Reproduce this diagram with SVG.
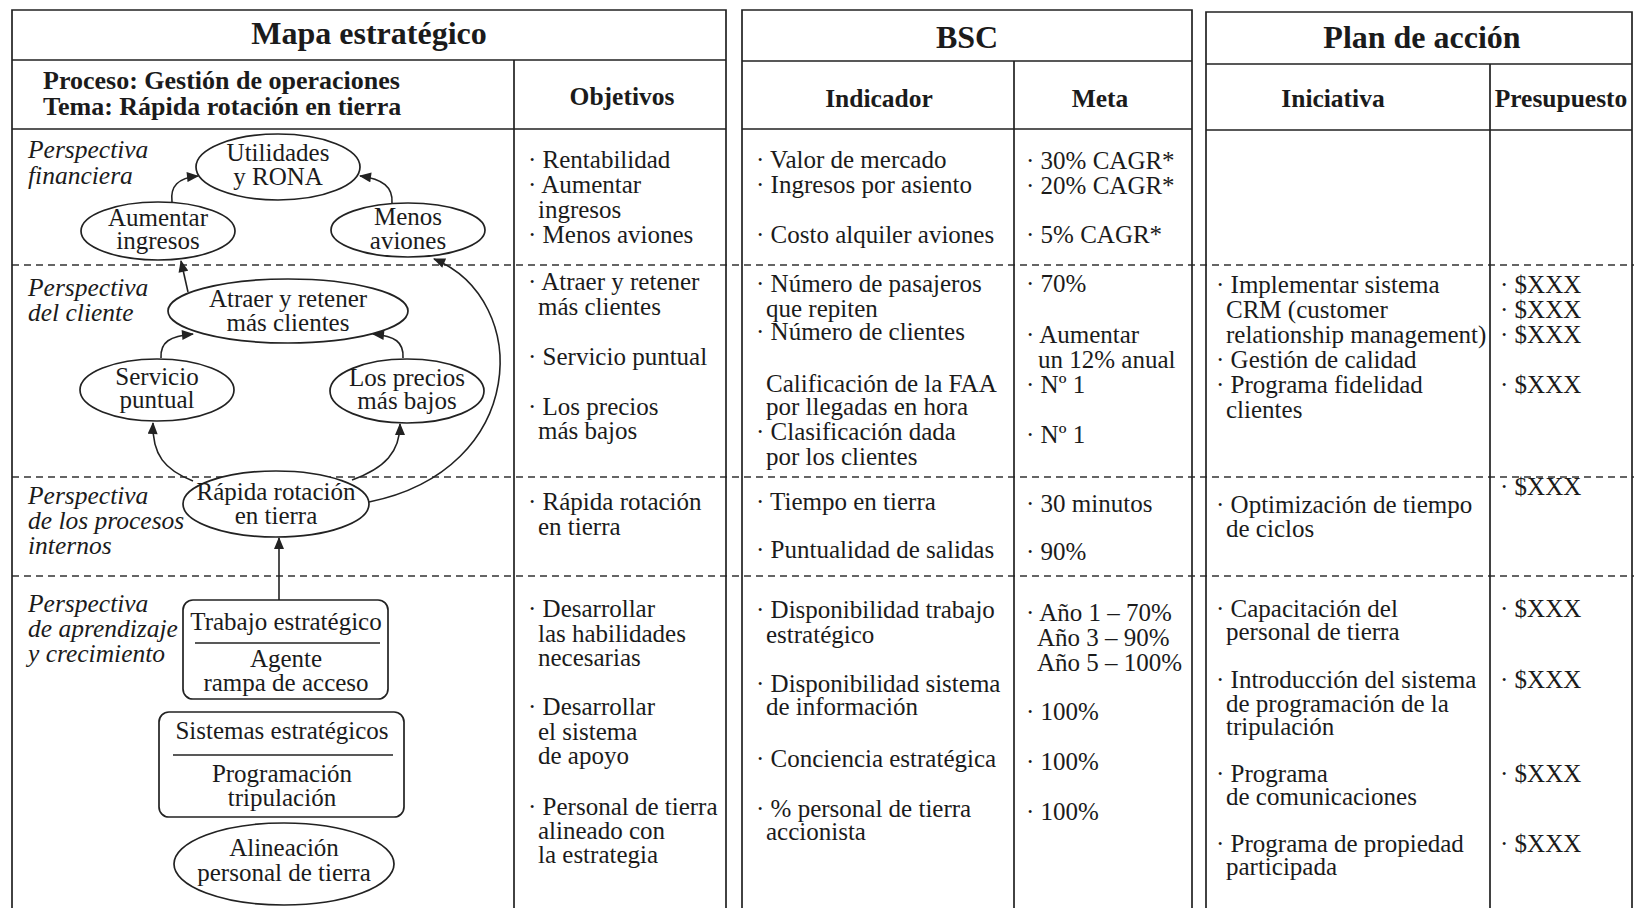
<svg xmlns="http://www.w3.org/2000/svg" width="1634" height="908" viewBox="0 0 1634 908">
<style>
.t{font-family:"Liberation Serif","Times New Roman",serif;font-size:25px;fill:#1b1b1b}
.c{text-anchor:middle}
.b{font-weight:bold;font-size:25.5px}
.hb{font-weight:bold;font-size:26px}
.ti{font-weight:bold;font-size:32px;text-anchor:middle}
.i{font-style:italic;font-size:25.5px}
.ln{stroke:#222;stroke-width:1.7;fill:none}
.dash{stroke:#333;stroke-width:1.4;stroke-dasharray:7 5;fill:none}
.node{fill:#fff;stroke:#222;stroke-width:1.7}
.sep{stroke:#222;stroke-width:1.5}
.conn{fill:none;stroke:#222;stroke-width:1.6;marker-end:url(#ah)}
</style>
<defs>
<marker id="ah" viewBox="0 0 12 10" refX="11" refY="5" markerWidth="13" markerHeight="10" markerUnits="userSpaceOnUse" orient="auto">
<path d="M0,0 L12,5 L0,10 Z" fill="#222"/>
</marker>
</defs>
<rect width="1634" height="908" fill="#fff"/>

<g id="grid">
<path class="dash" d="M12,265 H1634 M12,477 H1634 M12,576 H1634"/>
<path class="ln" d="M12,908 V10 H726 V908 M12,60 H726 M12,129 H726 M514,60 V908"/>
<path class="ln" d="M742,908 V10 H1192 V908 M742,61 H1192 M742,129 H1192 M1014,61 V908"/>
<path class="ln" d="M1206,908 V12 H1632 V908 M1206,64 H1632 M1206,130 H1632 M1490,64 V908"/>
</g>

<g id="headers">
<text class="t ti" x="369" y="44">Mapa estratégico</text>
<text class="t ti" x="967" y="48">BSC</text>
<text class="t ti" x="1422" y="48">Plan de acción</text>
<text class="t hb" x="43" y="89">Proceso: Gestión de operaciones</text>
<text class="t hb" x="43" y="115">Tema: Rápida rotación en tierra</text>
<text class="t b c" x="622" y="105">Objetivos</text>
<text class="t b c" x="879" y="107">Indicador</text>
<text class="t b c" x="1100" y="107">Meta</text>
<text class="t b c" x="1333" y="107">Iniciativa</text>
<text class="t b c" x="1561" y="107">Presupuesto</text>
</g>

<g id="perspectives">
<text class="t i" x="28" y="158">Perspectiva</text>
<text class="t i" x="28" y="184">financiera</text>
<text class="t i" x="28" y="296">Perspectiva</text>
<text class="t i" x="28" y="321">del cliente</text>
<text class="t i" x="28" y="504">Perspectiva</text>
<text class="t i" x="28" y="529">de los procesos</text>
<text class="t i" x="28" y="554">internos</text>
<text class="t i" x="28" y="612">Perspectiva</text>
<text class="t i" x="28" y="637">de aprendizaje</text>
<text class="t i" x="28" y="662">y crecimiento</text>
</g>

<g id="connectors">
<path class="conn" d="M172,202 C170,186 178,178 198,176"/>
<path class="conn" d="M392,203 C393,187 383,179 360,176"/>
<path class="conn" d="M188,292 L181,261"/>
<path class="conn" d="M161,358 C160,342 170,336 193,334"/>
<path class="conn" d="M403,358 C404,342 395,336 373,334"/>
<path class="conn" d="M193,481 C165,470 152,455 153,423"/>
<path class="conn" d="M352,480 C385,468 400,452 400,424"/>
<path class="conn" d="M369,502 C528,470 533,300 434,259"/>
<path class="conn" d="M279,600 L279,538"/>
</g>

<g id="n-utilidades">
<ellipse class="node" cx="278" cy="167" rx="82" ry="33"/>
<text class="t c" x="278" y="161">Utilidades</text>
<text class="t c" x="278" y="185">y RONA</text>
</g>
<g id="n-aumentar">
<ellipse class="node" cx="158" cy="231" rx="77" ry="29"/>
<text class="t c" x="158" y="226">Aumentar</text>
<text class="t c" x="158" y="249">ingresos</text>
</g>
<g id="n-menos">
<ellipse class="node" cx="408" cy="230" rx="77" ry="27"/>
<text class="t c" x="408" y="225">Menos</text>
<text class="t c" x="408" y="249">aviones</text>
</g>
<g id="n-atraer">
<ellipse class="node" cx="288" cy="311" rx="120" ry="32"/>
<text class="t c" x="288" y="307">Atraer y retener</text>
<text class="t c" x="288" y="331">más clientes</text>
</g>
<g id="n-servicio">
<ellipse class="node" cx="157" cy="390" rx="77" ry="31"/>
<text class="t c" x="157" y="385">Servicio</text>
<text class="t c" x="157" y="408">puntual</text>
</g>
<g id="n-precios">
<ellipse class="node" cx="407" cy="391" rx="77" ry="32"/>
<text class="t c" x="407" y="386">Los precios</text>
<text class="t c" x="407" y="409">más bajos</text>
</g>
<g id="n-rapida">
<ellipse class="node" cx="276" cy="504" rx="93" ry="33"/>
<text class="t c" x="276" y="500">Rápida rotación</text>
<text class="t c" x="276" y="524">en tierra</text>
</g>
<g id="n-trabajo">
<rect class="node" x="183" y="600" width="205" height="99" rx="10"/>
<text class="t c" x="286" y="630">Trabajo estratégico</text>
<line class="sep" x1="195" y1="643" x2="380" y2="643"/>
<text class="t c" x="286" y="667">Agente</text>
<text class="t c" x="286" y="691">rampa de acceso</text>
</g>
<g id="n-sistemas">
<rect class="node" x="159" y="712" width="245" height="105" rx="10"/>
<text class="t c" x="282" y="739">Sistemas estratégicos</text>
<line class="sep" x1="173" y1="755" x2="393" y2="755"/>
<text class="t c" x="282" y="782">Programación</text>
<text class="t c" x="282" y="806">tripulación</text>
</g>
<g id="n-alineacion">
<ellipse class="node" cx="284" cy="864" rx="110" ry="41"/>
<text class="t c" x="284" y="856">Alineación</text>
<text class="t c" x="284" y="881">personal de tierra</text>
</g>

<g id="col-objetivos">
<text class="t" x="528" y="168">· Rentabilidad</text>
<text class="t" x="528" y="193">· Aumentar</text>
<text class="t" x="538" y="218">ingresos</text>
<text class="t" x="528" y="243">· Menos aviones</text>
<text class="t" x="528" y="290">· Atraer y retener</text>
<text class="t" x="538" y="315">más clientes</text>
<text class="t" x="528" y="365">· Servicio puntual</text>
<text class="t" x="528" y="415">· Los precios</text>
<text class="t" x="538" y="439">más bajos</text>
<text class="t" x="528" y="510">· Rápida rotación</text>
<text class="t" x="538" y="535">en tierra</text>
<text class="t" x="528" y="617">· Desarrollar</text>
<text class="t" x="538" y="642">las habilidades</text>
<text class="t" x="538" y="666">necesarias</text>
<text class="t" x="528" y="715">· Desarrollar</text>
<text class="t" x="538" y="740">el sistema</text>
<text class="t" x="538" y="764">de apoyo</text>
<text class="t" x="528" y="815">· Personal de tierra</text>
<text class="t" x="538" y="839">alineado con</text>
<text class="t" x="538" y="863">la estrategia</text>
</g>

<g id="col-indicador">
<text class="t" x="756" y="168">· Valor de mercado</text>
<text class="t" x="756" y="193">· Ingresos por asiento</text>
<text class="t" x="756" y="243">· Costo alquiler aviones</text>
<text class="t" x="756" y="292">· Número de pasajeros</text>
<text class="t" x="766" y="317">que repiten</text>
<text class="t" x="756" y="340">· Número de clientes</text>
<text class="t" x="766" y="392">Calificación de la FAA</text>
<text class="t" x="766" y="415">por llegadas en hora</text>
<text class="t" x="756" y="440">· Clasificación dada</text>
<text class="t" x="766" y="465">por los clientes</text>
<text class="t" x="756" y="510">· Tiempo en tierra</text>
<text class="t" x="756" y="558">· Puntualidad de salidas</text>
<text class="t" x="756" y="618">· Disponibilidad trabajo</text>
<text class="t" x="766" y="643">estratégico</text>
<text class="t" x="756" y="692">· Disponibilidad sistema</text>
<text class="t" x="766" y="715">de información</text>
<text class="t" x="756" y="767">· Conciencia estratégica</text>
<text class="t" x="756" y="817">· % personal de tierra</text>
<text class="t" x="766" y="840">accionista</text>
</g>

<g id="col-meta">
<text class="t" x="1026" y="169">· 30% CAGR*</text>
<text class="t" x="1026" y="194">· 20% CAGR*</text>
<text class="t" x="1026" y="243">· 5% CAGR*</text>
<text class="t" x="1026" y="292">· 70%</text>
<text class="t" x="1026" y="343">· Aumentar</text>
<text class="t" x="1038" y="368">un 12% anual</text>
<text class="t" x="1026" y="393">· Nº 1</text>
<text class="t" x="1026" y="443">· Nº 1</text>
<text class="t" x="1026" y="512">· 30 minutos</text>
<text class="t" x="1026" y="560">· 90%</text>
<text class="t" x="1026" y="621">· Año 1 – 70%</text>
<text class="t" x="1037" y="646">Año 3 – 90%</text>
<text class="t" x="1037" y="671">Año 5 – 100%</text>
<text class="t" x="1026" y="720">· 100%</text>
<text class="t" x="1026" y="770">· 100%</text>
<text class="t" x="1026" y="820">· 100%</text>
</g>

<g id="col-iniciativa">
<text class="t" x="1216" y="293">· Implementar sistema</text>
<text class="t" x="1226" y="318">CRM (customer</text>
<text class="t" x="1226" y="343">relationship management)</text>
<text class="t" x="1216" y="368">· Gestión de calidad</text>
<text class="t" x="1216" y="393">· Programa fidelidad</text>
<text class="t" x="1226" y="418">clientes</text>
<text class="t" x="1216" y="513">· Optimización de tiempo</text>
<text class="t" x="1226" y="537">de ciclos</text>
<text class="t" x="1216" y="617">· Capacitación del</text>
<text class="t" x="1226" y="640">personal de tierra</text>
<text class="t" x="1216" y="688">· Introducción del sistema</text>
<text class="t" x="1226" y="712">de programación de la</text>
<text class="t" x="1226" y="735">tripulación</text>
<text class="t" x="1216" y="782">· Programa</text>
<text class="t" x="1226" y="805">de comunicaciones</text>
<text class="t" x="1216" y="852">· Programa de propiedad</text>
<text class="t" x="1226" y="875">participada</text>
</g>

<g id="col-presupuesto">
<text class="t" x="1500" y="293">· $XXX</text>
<text class="t" x="1500" y="318">· $XXX</text>
<text class="t" x="1500" y="343">· $XXX</text>
<text class="t" x="1500" y="393">· $XXX</text>
<text class="t" x="1500" y="495">· $XXX</text>
<text class="t" x="1500" y="617">· $XXX</text>
<text class="t" x="1500" y="688">· $XXX</text>
<text class="t" x="1500" y="782">· $XXX</text>
<text class="t" x="1500" y="852">· $XXX</text>
</g>
</svg>
